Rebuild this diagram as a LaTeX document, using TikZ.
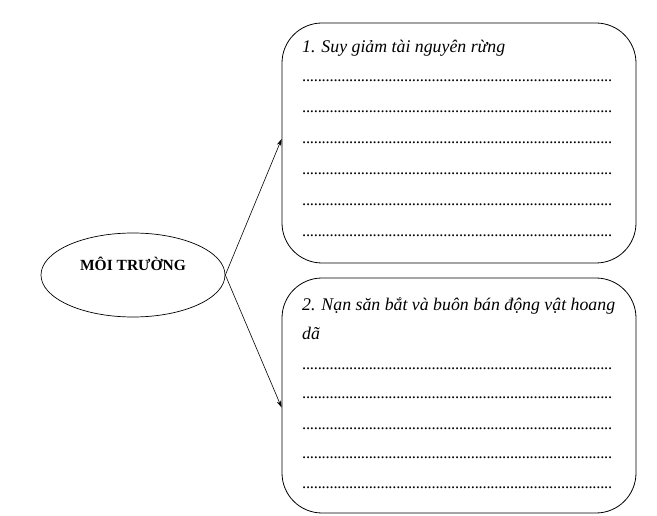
\documentclass[tikz,border=0pt]{standalone}
\usepackage{fontspec}
\setmainfont{Liberation Serif}
\usetikzlibrary{shapes.geometric,arrows.meta}

\newcommand{\dotrow}{\hbox to 310pt{\xleaders\hbox to 3.9pt{\hss.\hss}\hfill}}

\begin{document}
\begin{tikzpicture}[x=1pt,y=-1pt,
        khung/.style={draw, line width=0.8pt, rounded corners=40pt, minimum width=354pt},
        tieude/.style={anchor=base west, inner sep=0pt, font=\fontsize{17.8}{20}\selectfont\itshape},
        chamcham/.style={anchor=base west, inner sep=0pt, font=\fontsize{16.5}{18}\selectfont},
        muiten/.style={-{Stealth[length=7pt,width=4.5pt]}, line width=0.6pt}]
        \useasboundingbox (0,0) rectangle (657,516);
        % hinh elip ben trai
        \node[draw, ellipse, line width=0.7pt, minimum width=184pt, minimum height=84pt] (moi) at (133,275) {};
        \node[font=\fontsize{15.5}{18}\selectfont\bfseries] (moitxt) at (133,264) {MÔI TRƯỜNG};
        % hai khung
        \node[khung, minimum height=240pt] (rung) at (459,143) {};
        \node[khung, minimum height=235pt] (dongvat) at (459,395.5) {};
        \node[tieude] (t1) at (302,53) {1. Suy giảm tài nguyên rừng};
        \node[tieude] (t2) at (302,310) {2. Nạn săn bắt và buôn bán động vật hoang};
        \node[tieude] (t2b) at (302,340) {dã};
        \foreach \y [count=\i] in {82,113,144,175,206,237}
            \node[chamcham] (a\i) at (302,\y) {\dotrow};
        \foreach \y [count=\i] in {369,399,429,458,488}
            \node[chamcham] (b\i) at (302,\y) {\dotrow};
        % mui ten
        \draw[muiten] (moi.east) -- ([yshift=4pt]rung.west);
        \draw[muiten] (moi.east) -- ([yshift=-12pt]dongvat.west);
    \end{tikzpicture}
\end{document}
